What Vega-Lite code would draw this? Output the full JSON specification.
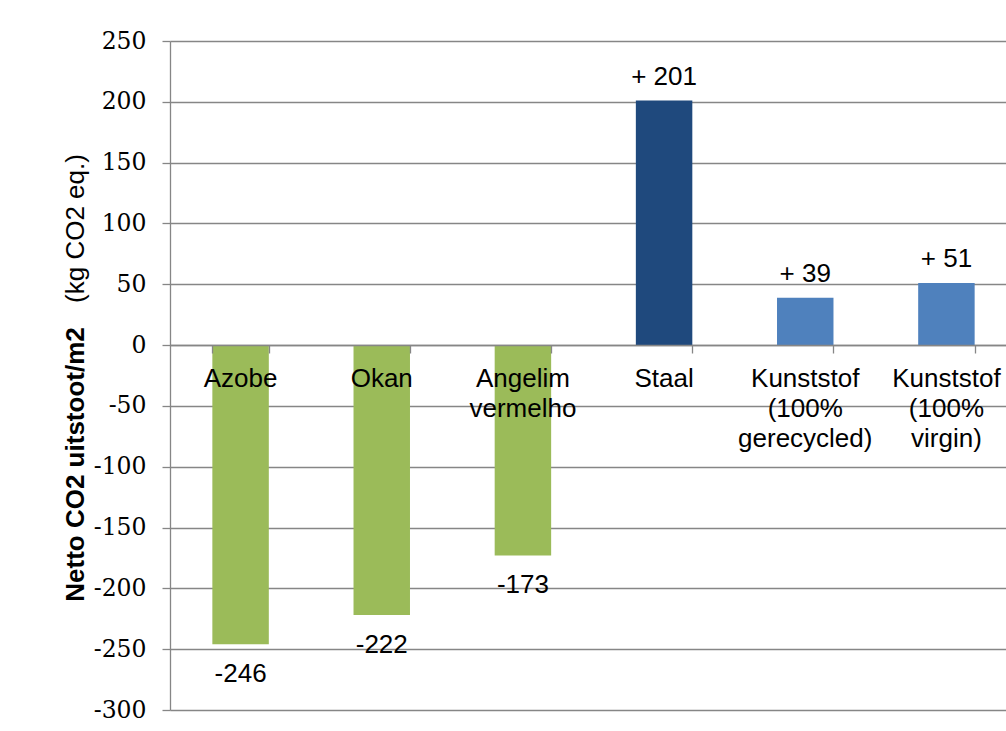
{
  "$schema": "https://vega.github.io/schema/vega-lite/v6.json",
  "width": 836,
  "height": 669,
  "autosize": {"type": "none"},
  "padding": {"left": 170, "top": 41, "right": 0, "bottom": 21},
  "background": "white",
  "config": {
    "view": {"stroke": null},
    "font": "Liberation Sans"
  },
  "data": {
    "values": [
      {"materiaal": "Azobe", "naam": "Azobe", "waarde": -246, "label": "-246", "groep": "hout"},
      {"materiaal": "Okan", "naam": "Okan", "waarde": -222, "label": "-222", "groep": "hout"},
      {"materiaal": "Angelim vermelho", "naam": "Angelim\nvermelho", "waarde": -173, "label": "-173", "groep": "hout"},
      {"materiaal": "Staal", "naam": "Staal", "waarde": 201, "label": "+ 201", "groep": "staal"},
      {"materiaal": "Kunststof (100% gerecycled)", "naam": "Kunststof\n(100%\ngerecycled)", "waarde": 39, "label": "+ 39", "groep": "kunststof"},
      {"materiaal": "Kunststof (100% virgin)", "naam": "Kunststof\n(100%\nvirgin)", "waarde": 51, "label": "+ 51", "groep": "kunststof"}
    ]
  },
  "encoding": {
    "x": {
      "field": "materiaal",
      "type": "nominal",
      "sort": null,
      "scale": {"range": [0, 847], "paddingInner": 0.6, "paddingOuter": 0.3}
    }
  },
  "resolve": {"axis": {"y": "independent"}},
  "layer": [
    {
      "mark": {"type": "bar"},
      "encoding": {
        "x": {
          "field": "materiaal",
          "type": "nominal",
          "sort": null,
          "axis": {
            "title": null,
            "labels": false,
            "grid": false,
            "offset": -365,
            "tickBand": "extent",
            "tickSize": 8,
            "tickColor": "#868686",
            "domainColor": "#868686",
            "domainWidth": 1.3,
            "tickWidth": 1.3,
            "zindex": 1
          }
        },
        "y": {
          "field": "waarde",
          "type": "quantitative",
          "scale": {"domain": [-300, 250], "nice": false},
          "axis": {
            "orient": "left",
            "values": [-300, -250, -200, -150, -100, -50, 0, 50, 100, 150, 200, 250],
            "labelExpr": "'' + datum.value",
            "grid": true,
            "gridColor": "#868686",
            "gridWidth": 1.3,
            "domainColor": "#868686",
            "domainWidth": 1.3,
            "tickColor": "#868686",
            "tickWidth": 1.3,
            "tickSize": 8,
            "labelPadding": 16,
            "labelFont": "DejaVu Serif",
            "labelFontSize": 23.5,
            "labelColor": "#000000",
            "title": "Netto CO2 uitstoot/m2",
            "titleFont": "Liberation Sans",
            "titleFontSize": 26,
            "titleFontWeight": "bold",
            "titleColor": "#000000",
            "titleAngle": -90,
            "titleBaseline": "alphabetic",
            "titleAlign": "center",
            "titleX": -87,
            "titleY": 423
          }
        },
        "color": {
          "field": "groep",
          "type": "nominal",
          "scale": {"domain": ["hout", "staal", "kunststof"], "range": ["#9BBB59", "#1F497D", "#4F81BD"]},
          "legend": null
        }
      }
    },
    {
      "transform": [{"filter": "datum.waarde >= 0"}],
      "mark": {"type": "text", "dy": -16, "baseline": "alphabetic", "fontSize": 26, "font": "Liberation Sans", "color": "#000000"},
      "encoding": {
        "y": {"field": "waarde", "type": "quantitative", "axis": null},
        "text": {"field": "label"}
      }
    },
    {
      "transform": [{"filter": "datum.waarde < 0"}],
      "mark": {"type": "text", "dy": 37.5, "baseline": "alphabetic", "fontSize": 26, "font": "Liberation Sans", "color": "#000000"},
      "encoding": {
        "y": {"field": "waarde", "type": "quantitative", "axis": null},
        "text": {"field": "label"}
      }
    },
    {
      "mark": {"type": "text", "dy": 42, "baseline": "alphabetic", "fontSize": 26, "font": "Liberation Sans", "color": "#000000", "lineBreak": "\n", "lineHeight": 30},
      "encoding": {
        "y": {
          "datum": 0,
          "type": "quantitative",
          "axis": {
            "orient": "left",
            "title": "(kg CO2 eq.)",
            "labels": false,
            "ticks": false,
            "domain": false,
            "grid": false,
            "titleFont": "Liberation Sans",
            "titleFontSize": 26,
            "titleFontWeight": "normal",
            "titleColor": "#000000",
            "titleAngle": -90,
            "titleBaseline": "alphabetic",
            "titleAlign": "center",
            "titleX": -87,
            "titleY": 187
          }
        },
        "text": {"field": "naam"}
      }
    }
  ]
}
